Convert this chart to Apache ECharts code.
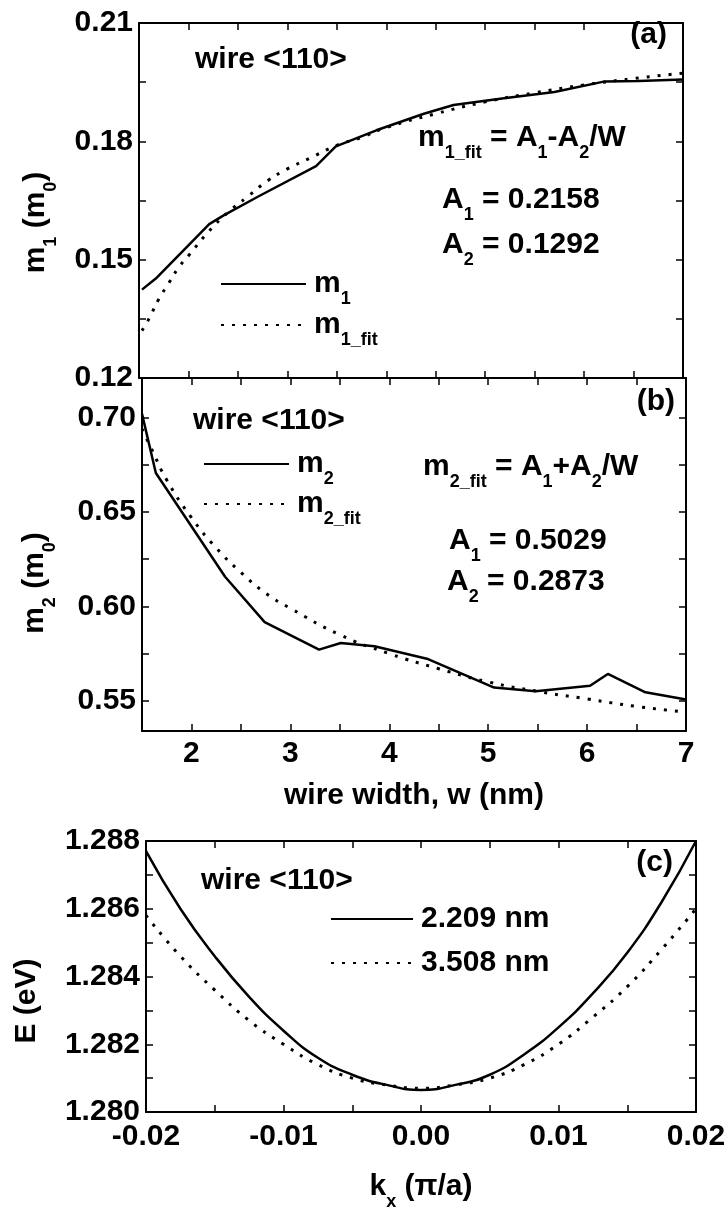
<!DOCTYPE html>
<html><head><meta charset="utf-8">
<script src="https://cdn.jsdelivr.net/npm/echarts@6/dist/echarts.min.js"></script>
<style>html,body{margin:0;padding:0;background:#fff}#c{width:725px;height:1208px}</style>
</head><body><div id="c"></div>
<script>
// ---------- data ----------
const widthM1 = [1.53, 1.67, 2.21, 2.36, 2.72, 3.29, 3.49, 3.90, 4.38, 4.68, 5.19, 5.70, 6.21, 6.55, 7.00];
const m1 = [0.1424, 0.1452, 0.1590, 0.1613, 0.1662, 0.1737, 0.1787, 0.1828, 0.1870, 0.1892, 0.1909, 0.1925, 0.1952, 0.1953, 0.1957];
const widthM1Fit = [1.53, 1.6, 1.7, 1.8, 1.9, 2.0, 2.2, 2.4, 2.6, 2.8, 3.0, 3.25, 3.5, 3.75, 4.0, 4.5, 5.0, 5.5, 6.0, 6.5, 7.0];
const m1Fit = [0.132, 0.135, 0.140, 0.144, 0.148, 0.151, 0.157, 0.162, 0.166, 0.170, 0.173, 0.176, 0.179, 0.181, 0.1835, 0.187, 0.190, 0.1923, 0.1943, 0.1959, 0.1973];
const widthM2 = [1.50, 1.64, 2.34, 2.74, 3.29, 3.51, 3.85, 4.38, 5.06, 5.48, 6.03, 6.21, 6.59, 7.00];
const m2 = [0.702, 0.6707, 0.6157, 0.5917, 0.5771, 0.5806, 0.5789, 0.5723, 0.557, 0.5551, 0.558, 0.5642, 0.5545, 0.5507];
const widthM2Fit = [1.5, 1.6, 1.75, 2.0, 2.25, 2.5, 2.75, 3.0, 3.5, 4.0, 4.5, 5.0, 5.5, 6.0, 6.5, 7.0];
const m2Fit = [0.694, 0.683, 0.667, 0.647, 0.631, 0.618, 0.607, 0.599, 0.585, 0.575, 0.567, 0.560, 0.555, 0.551, 0.547, 0.544];
const kx = [-0.02, -0.0175, -0.015, -0.0125, -0.01, -0.0075, -0.005, -0.0025, 0, 0.0025, 0.005, 0.0075, 0.01, 0.0125, 0.015, 0.0175, 0.02];
const e2209 = [1.2877, 1.2860, 1.2846, 1.2834, 1.2824, 1.2816, 1.2811, 1.2808, 1.28065, 1.2808, 1.2811, 1.2817, 1.2825, 1.2835, 1.2847, 1.2862, 1.2880];
const e3508 = [1.2858, 1.2846, 1.2836, 1.2827, 1.2820, 1.2814, 1.2810, 1.2808, 1.2807, 1.2808, 1.2810, 1.2814, 1.2820, 1.2828, 1.2837, 1.2848, 1.2860];
const fitM1 = ['0.2158', '0.1292'];
const fitM2 = ['0.5029', '0.2873'];
// tick values / labels
const wTicks = [2, 2.5, 3, 3.5, 4, 4.5, 5, 5.5, 6, 6.5, 7];
const wLabels = [2, 3, 4, 5, 6, 7];
const m1Ticks = [0.12, 0.135, 0.15, 0.165, 0.18, 0.195, 0.21];
const m1Labels = [0.12, 0.15, 0.18, 0.21];
const m2Ticks = [0.55, 0.575, 0.60, 0.625, 0.65, 0.675, 0.70];
const m2Labels = [0.55, 0.60, 0.65, 0.70];
const kTicks = [-0.02, -0.015, -0.01, -0.005, 0, 0.005, 0.01, 0.015, 0.02];
const kLabels = [-0.02, -0.01, 0, 0.01, 0.02];
const eTicks = [1.280, 1.281, 1.282, 1.283, 1.284, 1.285, 1.286, 1.287, 1.288];
const eLabels = [1.280, 1.282, 1.284, 1.286, 1.288];

// ---------- styling ----------
const FONT = '"Liberation Sans", Arial, Helvetica, sans-serif';
const F = 30, S = 18;
function richStyles(d) {
  return {
    n: {fontSize: F, lineHeight: F, fontWeight: 'bold', fontFamily: FONT, color: '#000', verticalAlign: 'middle'},
    s: {fontSize: S, lineHeight: F, fontWeight: 'bold', fontFamily: FONT, color: '#000', verticalAlign: 'middle', padding: [2 * d, 0, 0, 0]}
  };
}
const R = richStyles(15);
const zip = (a, b) => a.map((v, i) => [v, b[i]]);
const labelStyle = {color: '#000', fontSize: F, fontWeight: 'bold', fontFamily: FONT};

function axis(grid, pos, min, max, ticks, labels, fmt, extra, margin) {
  const a = {
    type: 'value', gridIndex: grid, position: pos, min: min, max: max,
    axisLine: {show: true, onZero: false, lineStyle: {color: '#000', width: 2}},
    axisTick: {show: true, inside: true, length: 7, lineStyle: {color: '#000', width: 1.5}, customValues: ticks},
    axisLabel: labels ? Object.assign({show: true, customValues: labels, formatter: fmt, margin: margin || 6}, labelStyle) : {show: false},
    splitLine: {show: false}, minorTick: {show: false}
  };
  return Object.assign(a, extra || {});
}
const f2 = v => v.toFixed(2);
const f3 = v => v.toFixed(3);

const grids = [
  {left: 139, top: 23, width: 544, height: 355, outerBoundsMode: 'none', containLabel: false},
  {left: 142, top: 378, width: 544, height: 353, outerBoundsMode: 'none', containLabel: false},
  {left: 146, top: 841, width: 550, height: 271, outerBoundsMode: 'none', containLabel: false}
];

const xAxes = [
  axis(0, 'bottom', 1.5, 7, wTicks, null),
  axis(0, 'top', 1.5, 7, wTicks, null),
  axis(1, 'bottom', 1.5, 7, wTicks, wLabels, v => String(v), {
    name: '{n|wire width, w (nm)}', nameLocation: 'middle', nameGap: 50,
    nameTextStyle: {rich: R}
  }, 8),
  axis(1, 'top', 1.5, 7, wTicks, null),
  axis(2, 'bottom', -0.02, 0.02, kTicks, kLabels, f2, {
    name: '{n|k}{s|x}{n| (π/a)}', nameLocation: 'middle', nameGap: 60,
    nameTextStyle: {rich: R}
  }, 10),
  axis(2, 'top', -0.02, 0.02, kTicks, null)
];
const yAxes = [
  axis(0, 'left', 0.12, 0.21, m1Ticks, m1Labels, f2, {
    name: '{n|m}{s|1}{n| (m}{s|0}{n|)}', nameLocation: 'middle', nameGap: 88, nameRotate: 90,
    nameTextStyle: {rich: R, padding: [0, 44, 0, 0]}
  }),
  axis(0, 'right', 0.12, 0.21, m1Ticks, null),
  axis(1, 'left', 0.534, 0.721, m2Ticks, m2Labels, f2, {
    name: '{n|m}{s|2}{n| (m}{s|0}{n|)}', nameLocation: 'middle', nameGap: 92, nameRotate: 90,
    nameTextStyle: {rich: R, padding: [0, 57, 0, 0]}
  }),
  axis(1, 'right', 0.534, 0.721, m2Ticks, null),
  axis(2, 'left', 1.280, 1.288, eTicks, eLabels, f3, {
    name: '{n|E (eV)}', nameLocation: 'middle', nameGap: 104, nameRotate: 90,
    nameTextStyle: {rich: R, padding: [0, 49, 0, 0]}
  }),
  axis(2, 'right', 1.280, 1.288, eTicks, null)
];

const solid = {color: '#000', width: 2.5, type: 'solid'};
const dotted = {color: '#000', width: 3, type: [3, 8]};
function line(name, xi, data, style, smooth) {
  return {type: 'line', name: name, xAxisIndex: xi, yAxisIndex: xi, data: data, symbol: 'none',
    showSymbol: false, smooth: smooth, lineStyle: style, itemStyle: {color: '#000'}, animation: false};
}
const series = [
  line('m1', 0, zip(widthM1, m1), solid, false),
  line('m1_fit', 0, zip(widthM1Fit, m1Fit), dotted, true),
  line('m2', 2, zip(widthM2, m2), solid, false),
  line('m2_fit', 2, zip(widthM2Fit, m2Fit), dotted, true),
  line('2.209 nm', 4, zip(kx, e2209), solid, true),
  line('3.508 nm', 4, zip(kx, e3508), dotted, true)
];

const legendText = {
  'm1': '{n|m}{s|1}', 'm1_fit': '{n|m}{s|1_fit}',
  'm2': '{n|m}{s|2}', 'm2_fit': '{n|m}{s|2_fit}',
  '2.209 nm': '{n|2.209 nm}', '3.508 nm': '{n|3.508 nm}'
};
function legend(names, left, top, w, gap) {
  return {data: names, orient: 'vertical', left: left, top: top, itemWidth: w, itemHeight: 12,
    itemGap: gap, selectedMode: false, formatter: n => legendText[n],
    itemStyle: {color: 'rgba(0,0,0,0)', borderWidth: 0, opacity: 0},
    textStyle: {rich: R, padding: [0, 0, 0, 3]}};
}

function txt(x, y, s, align) {
  return {type: 'text', x: x, y: y, z: 10, style: {text: s, rich: R, align: align || 'left', verticalAlign: 'middle',
    fontSize: F, fontWeight: 'bold', fontFamily: FONT, fill: '#000'}};
}
const graphics = [
  txt(195, 60, '{n|wire <110>}'),
  txt(667, 35, '{n|(a)}', 'right'),
  txt(418, 138, '{n|m}{s|1_fit}{n| = A}{s|1}{n|-A}{s|2}{n|/W}'),
  txt(442, 200, '{n|A}{s|1}{n| = ' + fitM1[0] + '}'),
  txt(442, 245, '{n|A}{s|2}{n| = ' + fitM1[1] + '}'),
  txt(193, 421, '{n|wire <110>}'),
  txt(675, 402, '{n|(b)}', 'right'),
  txt(423, 467, '{n|m}{s|2_fit}{n| = A}{s|1}{n|+A}{s|2}{n|/W}'),
  txt(449, 541, '{n|A}{s|1}{n| = ' + fitM2[0] + '}'),
  txt(447, 582, '{n|A}{s|2}{n| = ' + fitM2[1] + '}'),
  txt(201, 881, '{n|wire <110>}'),
  txt(673, 863, '{n|(c)}', 'right')
];

const chart = echarts.init(document.getElementById('c'), null, {renderer: 'canvas'});
chart.setOption({
  backgroundColor: '#fff',
  animation: false,
  grid: grids,
  xAxis: xAxes,
  yAxis: yAxes,
  legend: [
    legend(['m1', 'm1_fit'], 215, 255, 85, -7),
    legend(['m2', 'm2_fit'], 198, 435, 85, -8),
    legend(['2.209 nm', '3.508 nm'], 325, 899, 82, 14)
  ],
  graphic: graphics,
  series: series
});
</script></body></html>
